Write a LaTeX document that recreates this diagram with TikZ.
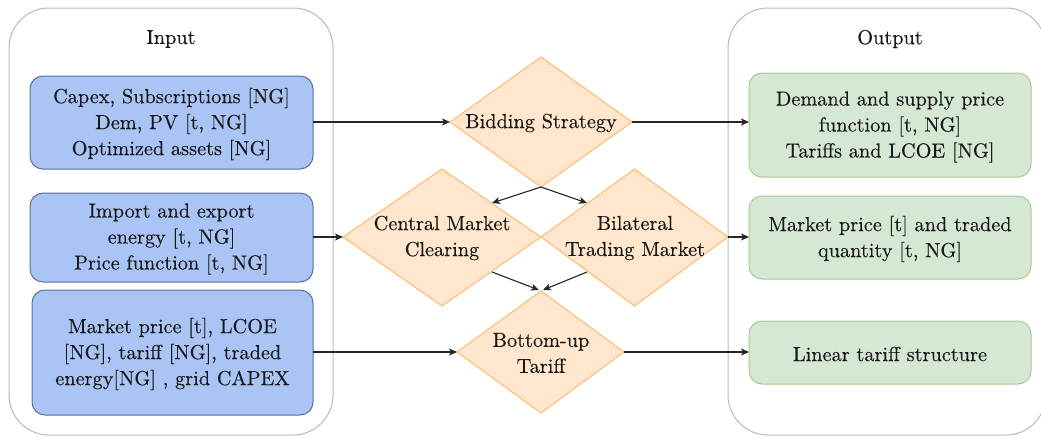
\documentclass[tikz,border=0pt]{standalone}
\usepackage{fontspec}
\newfontfamily\labelfont{lmroman10-regular.otf}[FakeBold=0.25]
\usetikzlibrary{shapes.geometric,arrows.meta}

\definecolor{inblue}{HTML}{A9C4F5}
\definecolor{inbluedraw}{HTML}{5A6E96}
\definecolor{outgreen}{HTML}{D5E8D4}
\definecolor{outgreendraw}{HTML}{A7CC93}
\definecolor{procfill}{HTML}{FFE6CC}
\definecolor{procdraw}{HTML}{FFB870}
\definecolor{framegray}{HTML}{B8B8B8}

\tikzset{
  x=1pt, y=-1pt,
  every node/.style={font=\labelfont\fontsize{20.3}{26}\selectfont, text=black!90, align=center},
  container/.style={draw=framegray, line width=1pt, rounded corners=40pt},
  inbox/.style={draw=inbluedraw, fill=inblue, line width=1pt, rounded corners=13pt},
  outbox/.style={draw=outgreendraw, fill=outgreen, line width=1pt, rounded corners=13pt},
  proc/.style={draw=procdraw, fill=procfill, line width=1pt},
  flow/.style={draw=black!85, line width=1.1pt, -{Stealth[length=8pt,width=7pt,inset=2pt]}},
}

\begin{document}
\begin{tikzpicture}
\useasboundingbox (0,0) rectangle (1041,437);

% frames for the inputs and the outputs
\draw[container] (9,8) rectangle (333,435);
\draw[container] (728,8) rectangle (1046,435);
\node (inputT) at (171,39) {Input};
\node (outputT) at (890,39) {Output};

% input boxes
\draw[inbox] (30,76) rectangle (313,169);
\node (in1) at (171.5,124) {Capex, Subscriptions [NG]\\Dem, PV [t, NG]\\Optimized assets [NG]};
\coordinate (in1r) at (313,122);
\draw[inbox] (30,193) rectangle (313,282);
\node (in2) at (171.5,239) {Import and export\\energy [t, NG]\\Price function [t, NG]};
\coordinate (in2r) at (313,237);
\draw[inbox] (32,290) rectangle (313,415);
\node (in3) at (172.5,354) {Market price [t], LCOE\\{}[NG], tariff [NG], traded\\energy[NG] , grid CAPEX};
\coordinate (in3r) at (313,352);

% output boxes
\draw[outbox] (749,73) rectangle (1031,177);
\node (out1) at (890,127) {Demand and supply price\\function [t, NG]\\Tariffs and LCOE [NG]};
\coordinate (out1l) at (749,122);
\draw[outbox] (749,196) rectangle (1031,279);
\node (out2) at (890,239) {Market price [t] and traded\\quantity [t, NG]};
\coordinate (out2l) at (749,237);
\draw[outbox] (749,321) rectangle (1031,384);
\node (out3) at (890,354) {Linear tariff structure};
\coordinate (out3l) at (749,352);

% decision diamonds
\draw[proc] (450,122) -- (541,57) -- (632,122) -- (541,187) -- cycle;
\node (bid) at (541,123) {Bidding Strategy};
\coordinate (bidW) at (450,122);
\coordinate (bidE) at (632,122);
\coordinate (bidS) at (541,187);

\draw[proc] (343,237) -- (442,169) -- (541,237) -- (442,306) -- cycle;
\node (cmc) at (442,238) {Central Market\\Clearing};
\coordinate (cmcW) at (343,237);
\coordinate (cmcNE) at (492,203);
\coordinate (cmcSE) at (492,272);

\draw[proc] (541,237) -- (634.5,169) -- (728,237) -- (634.5,306) -- cycle;
\node (btm) at (635,238) {Bilateral\\Trading Market};
\coordinate (btmE) at (728,237);
\coordinate (btmNW) at (587,203);
\coordinate (btmSW) at (587,272);

\draw[proc] (457,352) -- (541,291) -- (624,352) -- (541,413) -- cycle;
\node (but) at (541,353) {Bottom-up\\Tariff};
\coordinate (butW) at (457,352);
\coordinate (butE) at (624,352);
\coordinate (butNl) at (539,290);
\coordinate (butNr) at (543,290);

% connectors
\draw[flow] (in1r) -- (bidW);
\draw[flow] (bidE) -- (out1l);
\draw[flow] (bidS) -- (cmcNE);
\draw[flow] (bidS) -- (btmNW);
\draw[flow] (in2r) -- (cmcW);
\draw[flow] (btmE) -- (out2l);
\draw[flow] (cmcSE) -- (butNl);
\draw[flow] (btmSW) -- (butNr);
\draw[flow] (in3r) -- (butW);
\draw[flow] (butE) -- (out3l);
\end{tikzpicture}
\end{document}
